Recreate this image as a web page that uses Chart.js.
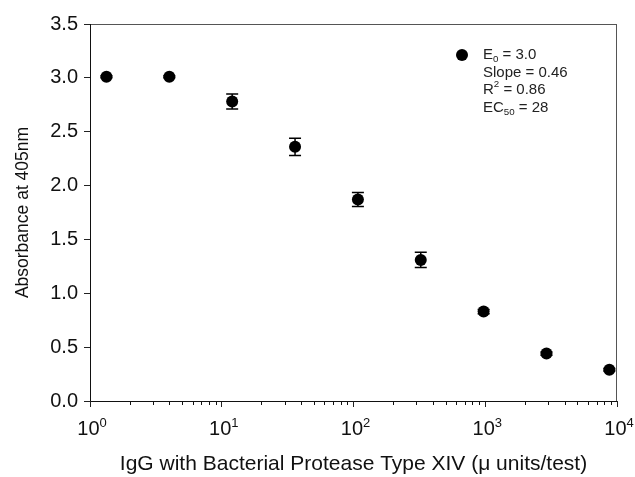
<!DOCTYPE html>
<html>
<head>
<meta charset="utf-8">
<script src="https://cdn.jsdelivr.net/npm/chart.js@4.4.1/dist/chart.umd.min.js"></script>
<style>
  html, body { margin: 0; padding: 0; background: #fff; }
  #wrap { width: 635px; height: 477px; }
</style>
</head>
<body>
<div id="wrap"><canvas id="chart"></canvas></div>
<script>
// 3-fold dilution series
const doses = [1.333, 4, 12, 36, 108, 324, 972, 2916, 8748];
const absorbance = [3.01, 3.01, 2.78, 2.36, 1.87, 1.31, 0.83, 0.44, 0.29];
const errors = [0.01, 0.01, 0.07, 0.08, 0.065, 0.07, 0.02, 0.015, 0.012];
const xTickValues = [1, 10, 100, 1000, 10000];
const xTickExponents = ["0", "1", "2", "3", "4"];
// each line: [text, "" | "sub" | "sup"]
const fitLines = [
  [["E", ""], ["0", "sub"], [" = 3.0", ""]],
  [["Slope = 0.46", ""]],
  [["R", ""], ["2", "sup"], [" = 0.86", ""]],
  [["EC", ""], ["50", "sub"], [" = 28", ""]]
];

const FONT = "'Liberation Sans', Arial, sans-serif";

function richWidth(ctx, parts, size) {
  let w = 0;
  parts.forEach(([txt, kind]) => {
    ctx.font = (kind ? size * 0.65 : size) + "px " + FONT;
    w += ctx.measureText(txt).width;
  });
  return w;
}

function drawRich(ctx, parts, x, y, size) {
  let cx = x;
  parts.forEach(([txt, kind]) => {
    const s = kind ? size * 0.65 : size;
    const dy = kind === "sub" ? size * 0.3 : kind === "sup" ? -size * 0.4 : 0;
    ctx.font = s + "px " + FONT;
    ctx.fillText(txt, cx, y + dy);
    cx += ctx.measureText(txt).width;
  });
}

const extrasPlugin = {
  id: "extras",
  beforeDatasetsDraw(chart) {
    const { ctx, scales: { x, y } } = chart;
    ctx.save();
    ctx.strokeStyle = "#000";
    ctx.lineWidth = 1.5;
    doses.forEach((d, i) => {
      const px = x.getPixelForValue(d);
      const hi = y.getPixelForValue(absorbance[i] + errors[i]);
      const lo = y.getPixelForValue(absorbance[i] - errors[i]);
      ctx.beginPath();
      ctx.moveTo(px, hi); ctx.lineTo(px, lo);
      ctx.moveTo(px - 6, hi); ctx.lineTo(px + 6, hi);
      ctx.moveTo(px - 6, lo); ctx.lineTo(px + 6, lo);
      ctx.stroke();
    });
    ctx.restore();
  },
  afterDraw(chart) {
    const { ctx, chartArea: a, scales: { x } } = chart;
    ctx.save();
    ctx.lineWidth = 1;
    // frame: left/bottom dark, top/right a bit lighter
    ctx.strokeStyle = "#555";
    ctx.strokeRect(a.left + 0.5, a.top + 0.5, a.right - a.left - 1, a.bottom - a.top);
    ctx.strokeStyle = "#111";
    ctx.beginPath();
    ctx.moveTo(a.left + 0.5, a.top); ctx.lineTo(a.left + 0.5, a.bottom + 0.5);
    ctx.lineTo(a.right, a.bottom + 0.5);
    ctx.stroke();
    // minor log ticks
    ctx.beginPath();
    for (let d = 1; d < 10000; d *= 10) {
      for (let m = 2; m <= 9; m++) {
        const px = Math.round(x.getPixelForValue(d * m)) + 0.5;
        ctx.moveTo(px, a.bottom); ctx.lineTo(px, a.bottom + 4);
      }
    }
    ctx.stroke();
    // x tick labels as powers of ten
    ctx.fillStyle = "#111";
    ctx.textBaseline = "alphabetic";
    xTickValues.forEach((v, i) => {
      const parts = [["10", ""], [xTickExponents[i], "sup"]];
      const w = richWidth(ctx, parts, 20);
      drawRich(ctx, parts, x.getPixelForValue(v) - w / 2 + 2, a.bottom + 34, 20);
    });
    // fit legend
    const lx = a.right - 155, ly = a.top + 31;
    ctx.fillStyle = "#000";
    ctx.beginPath();
    ctx.arc(lx, ly, 6, 0, Math.PI * 2);
    ctx.fill();
    ctx.fillStyle = "#222";
    ctx.textBaseline = "middle";
    fitLines.forEach((parts, i) => drawRich(ctx, parts, lx + 21, ly + i * 17.5, 15));
    ctx.restore();
  }
};

new Chart(document.getElementById("chart"), {
  type: "scatter",
  data: {
    datasets: [{
      data: doses.map((d, i) => ({ x: d, y: absorbance[i] })),
      backgroundColor: "#000",
      borderWidth: 0,
      pointRadius: 6,
      pointHoverRadius: 6
    }]
  },
  options: {
    responsive: true,
    maintainAspectRatio: false,
    animation: false,
    layout: { padding: { top: 24, right: 18, left: 0, bottom: 0 } },
    plugins: { legend: { display: false }, tooltip: { enabled: false } },
    scales: {
      x: {
        type: "logarithmic",
        min: 1,
        max: 10000,
        afterBuildTicks: s => { s.ticks = xTickValues.map(v => ({ value: v, major: true })); },
        afterFit: s => { s.height = 76; },
        border: { display: false },
        grid: { drawOnChartArea: false, tickLength: 6, color: "#222" },
        ticks: { autoSkip: false, maxRotation: 0, callback: () => "" },
        title: {
          display: true,
          text: "IgG with Bacterial Protease Type XIV (μ units/test)",
          color: "#111",
          font: { family: FONT, size: 21 },
          padding: { top: 0, bottom: 0 }
        }
      },
      y: {
        min: 0,
        max: 3.5,
        afterFit: s => { s.width = 90; },
        border: { display: false },
        grid: { drawOnChartArea: false, tickLength: 6, color: "#222" },
        ticks: {
          stepSize: 0.5, padding: 6, color: "#111",
          font: { family: FONT, size: 20 },
          callback: v => v.toFixed(1)
        },
        title: {
          display: true,
          text: "Absorbance at 405nm",
          color: "#111",
          font: { family: FONT, size: 17.5 },
          padding: { top: 13, bottom: 0 }
        }
      }
    }
  },
  plugins: [extrasPlugin]
});
</script>
</body>
</html>
